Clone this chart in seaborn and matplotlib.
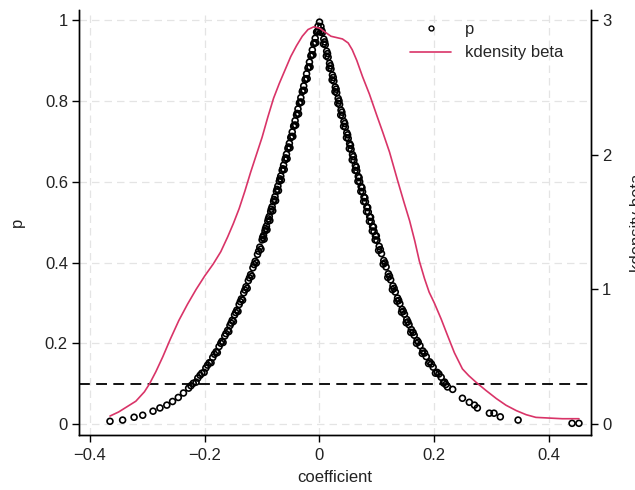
import matplotlib
matplotlib.use("Agg")
import matplotlib.pyplot as plt
from matplotlib.lines import Line2D
import seaborn as sns
import pandas as pd

# ---- scatter data: coefficient (beta) and p-value ----
left_coef = [-0.0025, -0.005, -0.0075, -0.010, -0.0125, -0.015, -0.0175, -0.020,
             -0.0225, -0.025, -0.0275, -0.030, -0.0325, -0.035, -0.0375, -0.040,
             -0.0425, -0.045, -0.0475, -0.050, -0.0525, -0.055, -0.0575, -0.060,
             -0.0625, -0.065, -0.0675, -0.070, -0.0725, -0.075, -0.0775, -0.080,
             -0.0825, -0.085, -0.0875, -0.090, -0.0925, -0.095, -0.0975, -0.100,
             -0.104, -0.108, -0.112, -0.116, -0.120, -0.124, -0.128, -0.132,
             -0.136, -0.140, -0.144, -0.148, -0.152, -0.156, -0.160, -0.165,
             -0.170, -0.175, -0.180, -0.186, -0.192, -0.198, -0.205, -0.212,
             -0.220, -0.228, -0.237, -0.246, -0.256, -0.266, -0.278, -0.290,
             -0.308, -0.323, -0.343, -0.365]
left_p = [0.985, 0.970, 0.955, 0.941, 0.926, 0.911, 0.896, 0.881,
          0.867, 0.852, 0.837, 0.823, 0.808, 0.794, 0.780, 0.765,
          0.751, 0.737, 0.723, 0.709, 0.695, 0.682, 0.668, 0.654,
          0.641, 0.628, 0.614, 0.601, 0.589, 0.576, 0.563, 0.551,
          0.538, 0.526, 0.514, 0.502, 0.490, 0.478, 0.467, 0.456,
          0.438, 0.420, 0.403, 0.387, 0.370, 0.355, 0.340, 0.325,
          0.310, 0.296, 0.282, 0.270, 0.257, 0.244, 0.232, 0.218,
          0.205, 0.192, 0.179, 0.165, 0.152, 0.139, 0.126, 0.114,
          0.101, 0.089, 0.077, 0.066, 0.056, 0.047, 0.040, 0.032,
          0.022, 0.017, 0.010, 0.007]

left2_coef = [-0.004, -0.009, -0.014, -0.019, -0.024, -0.029, -0.034, -0.039,
              -0.044, -0.049, -0.054, -0.059, -0.064, -0.069, -0.074, -0.079,
              -0.084, -0.089, -0.094, -0.099, -0.106, -0.114, -0.122, -0.130,
              -0.138, -0.146, -0.154, -0.163, -0.172, -0.183, -0.195, -0.208,
              -0.224]
left2_p = [0.972, 0.944, 0.914, 0.884, 0.855, 0.826, 0.797, 0.769,
           0.740, 0.712, 0.686, 0.659, 0.632, 0.607, 0.581, 0.556,
           0.532, 0.508, 0.484, 0.462, 0.428, 0.395, 0.362, 0.332,
           0.303, 0.276, 0.250, 0.224, 0.200, 0.173, 0.146, 0.121,
           0.095]

left3_coef = [-0.0015, -0.0065, -0.0115, -0.0165, -0.0215, -0.0265, -0.0315, -0.0365,
              -0.0415, -0.0465, -0.0515, -0.0565, -0.0615, -0.0665, -0.0715, -0.0765,
              -0.0815, -0.0865, -0.0915, -0.0965, -0.102, -0.110, -0.118, -0.126,
              -0.134, -0.142, -0.150, -0.158, -0.168, -0.178, -0.189, -0.201,
              -0.215]
left3_p = [0.973, 0.944, 0.914, 0.884, 0.855, 0.826, 0.797, 0.768,
           0.740, 0.712, 0.684, 0.657, 0.630, 0.604, 0.578, 0.553,
           0.528, 0.504, 0.481, 0.458, 0.433, 0.399, 0.366, 0.336,
           0.307, 0.279, 0.254, 0.229, 0.202, 0.177, 0.152, 0.128,
           0.104]

right_coef = [0.0, 0.0025, 0.005, 0.0075, 0.010, 0.0125, 0.015, 0.0175, 0.020,
              0.0225, 0.025, 0.0275, 0.030, 0.0325, 0.035, 0.0375, 0.040,
              0.0425, 0.045, 0.0475, 0.050, 0.0525, 0.055, 0.0575, 0.060,
              0.0625, 0.065, 0.0675, 0.070, 0.0725, 0.075, 0.0775, 0.080,
              0.0825, 0.085, 0.0875, 0.090, 0.0925, 0.095, 0.0975, 0.100,
              0.104, 0.108, 0.112, 0.116, 0.120, 0.124, 0.128, 0.132,
              0.136, 0.140, 0.144, 0.148, 0.152, 0.156, 0.160, 0.165,
              0.170, 0.175, 0.180, 0.186, 0.192, 0.198, 0.205, 0.212,
              0.218, 0.220, 0.223, 0.232, 0.249, 0.261, 0.270, 0.275,
              0.296, 0.304, 0.315, 0.346, 0.440, 0.452]
right_p = [0.995, 0.984, 0.969, 0.953, 0.939, 0.923, 0.908, 0.893, 0.879,
           0.864, 0.849, 0.834, 0.820, 0.806, 0.791, 0.777, 0.763,
           0.749, 0.735, 0.721, 0.707, 0.694, 0.680, 0.667, 0.653,
           0.640, 0.627, 0.613, 0.600, 0.588, 0.575, 0.562, 0.550,
           0.537, 0.525, 0.513, 0.501, 0.489, 0.477, 0.466, 0.455,
           0.440, 0.422, 0.405, 0.389, 0.372, 0.357, 0.342, 0.327,
           0.312, 0.298, 0.284, 0.272, 0.259, 0.246, 0.234, 0.220,
           0.207, 0.194, 0.181, 0.167, 0.154, 0.141, 0.128, 0.116,
           0.104, 0.098, 0.092, 0.086, 0.064, 0.054, 0.047, 0.040,
           0.027, 0.027, 0.018, 0.010, 0.002, 0.002]

right2_coef = [0.004, 0.009, 0.014, 0.019, 0.024, 0.029, 0.034, 0.039,
               0.044, 0.049, 0.054, 0.059, 0.064, 0.069, 0.074, 0.079,
               0.084, 0.089, 0.094, 0.099, 0.106, 0.114, 0.122, 0.130,
               0.138, 0.146, 0.154, 0.163, 0.172, 0.183, 0.195, 0.208]
right2_p = [0.974, 0.946, 0.917, 0.887, 0.858, 0.829, 0.800, 0.772,
            0.744, 0.716, 0.690, 0.662, 0.636, 0.610, 0.585, 0.560,
            0.536, 0.512, 0.488, 0.466, 0.432, 0.399, 0.366, 0.336,
            0.306, 0.279, 0.253, 0.227, 0.203, 0.176, 0.149, 0.124]

right3_coef = [0.0020, 0.0070, 0.0120, 0.0170, 0.0220, 0.0270, 0.0320, 0.0370,
               0.0420, 0.0470, 0.0520, 0.0570, 0.0620, 0.0670, 0.0720, 0.0770,
               0.0820, 0.0870, 0.0920, 0.0970, 0.103, 0.111, 0.119, 0.127,
               0.135, 0.143, 0.151, 0.159, 0.169, 0.179, 0.190, 0.202,
               0.216]
right3_p = [0.970, 0.941, 0.911, 0.881, 0.852, 0.823, 0.794, 0.765,
            0.737, 0.709, 0.682, 0.654, 0.628, 0.601, 0.576, 0.551,
            0.526, 0.502, 0.478, 0.456, 0.430, 0.396, 0.363, 0.333,
            0.304, 0.277, 0.251, 0.227, 0.200, 0.175, 0.150, 0.126,
            0.102]

# ---- kernel density of beta (right axis) ----
kde_x = [-0.365, -0.350, -0.335, -0.320, -0.305, -0.296, -0.285, -0.273,
         -0.260, -0.245, -0.230, -0.215, -0.200, -0.185, -0.172, -0.160,
         -0.150, -0.140, -0.130, -0.120, -0.110, -0.100, -0.090, -0.080,
         -0.070, -0.060, -0.050, -0.040, -0.030, -0.020, -0.010, 0.000,
         0.010, 0.020, 0.030, 0.040, 0.050, 0.057, 0.065, 0.075,
         0.087, 0.100, 0.110, 0.122, 0.136, 0.147, 0.157, 0.166,
         0.174, 0.183, 0.191, 0.200, 0.212, 0.222, 0.235, 0.249,
         0.260, 0.273, 0.290, 0.308, 0.325, 0.343, 0.360, 0.377,
         0.400, 0.423, 0.452]
kde_y = [0.06, 0.09, 0.13, 0.17, 0.24, 0.30, 0.39, 0.50,
         0.63, 0.77, 0.89, 1.00, 1.10, 1.19, 1.28, 1.39,
         1.49, 1.60, 1.73, 1.87, 2.00, 2.13, 2.28, 2.42,
         2.53, 2.63, 2.73, 2.81, 2.88, 2.93, 2.95, 2.94,
         2.91, 2.88, 2.87, 2.86, 2.83, 2.78, 2.70, 2.58,
         2.45, 2.29, 2.17, 2.02, 1.81, 1.65, 1.51, 1.36,
         1.21, 1.08, 0.98, 0.90, 0.78, 0.67, 0.53, 0.41,
         0.36, 0.31, 0.25, 0.19, 0.14, 0.10, 0.07, 0.05,
         0.045, 0.04, 0.04]

x_ticks = [-0.4, -0.2, 0, 0.2, 0.4]
x_ticklabels = ["\u22120.4", "\u22120.2", "0", "0.2", "0.4"]
y_ticks = [0, 0.2, 0.4, 0.6, 0.8, 1]
y_ticklabels = ["0", "0.2", "0.4", "0.6", "0.8", "1"]
y2_ticks = [0, 1, 2, 3]
threshold = 0.1

scatter_df = pd.DataFrame({
    "coefficient": left_coef + left2_coef + left3_coef
                   + right_coef + right2_coef + right3_coef,
    "p": left_p + left2_p + left3_p + right_p + right2_p + right3_p,
})
kde_df = pd.DataFrame({"beta": kde_x, "density": kde_y})

sns.set_style("white")
plt.rcParams["font.family"] = ["Liberation Sans", "DejaVu Sans"]
plt.rcParams["font.size"] = 12

fig = plt.figure(figsize=(6.35, 4.9), dpi=100)
ax = fig.add_axes([0.1244, 0.1122, 0.8063, 0.8674])

kde_color = "#D93468"

ax.set_xlim(-0.419, 0.473)
ax.set_ylim(-0.027, 1.025)

ax.grid(True, color="#E4E4E4", linestyle=(0, (6, 4)), linewidth=0.9)
ax.set_axisbelow(True)

sns.scatterplot(data=scatter_df, x="coefficient", y="p", ax=ax,
                marker="o", s=18, facecolor="none", edgecolor="black",
                linewidth=1.2, legend=False, zorder=3)
ax.axhline(threshold, color="black", linestyle=(0, (6, 3.5)), linewidth=1.3, zorder=2)

ax2 = ax.twinx()
ax2.set_ylim(-0.027 * 3, 1.025 * 3)
sns.lineplot(data=kde_df, x="beta", y="density", ax=ax2, color=kde_color,
             linewidth=1.2, sort=False, legend=False, zorder=4)

ax.set_xticks(x_ticks)
ax.set_xticklabels(x_ticklabels)
ax.set_yticks(y_ticks)
ax.set_yticklabels(y_ticklabels)
ax2.set_yticks(y2_ticks)
ax2.set_yticklabels([str(t) for t in y2_ticks])

for a in (ax, ax2):
    a.tick_params(direction="out", length=5, width=1, color="black",
                  labelsize=12, labelcolor="#222222")
    a.spines["top"].set_visible(False)
    for s in ("left", "right", "bottom"):
        a.spines[s].set_color("black")
        a.spines[s].set_linewidth(1.0)
ax.tick_params(axis="x", bottom=True, pad=4)
ax.tick_params(axis="y", left=True, pad=3)
ax2.tick_params(axis="y", right=True, pad=3)
ax2.set_xlabel("")

ax.set_xlabel("coefficient", fontsize=12, color="#222222")
ax.set_ylabel("p", fontsize=12, color="#222222")
ax.yaxis.set_label_coords(-0.105, 0.5)
ax.xaxis.set_label_coords(0.5, -0.083)
ax2.set_ylabel("kdensity beta", fontsize=12, color="#222222", rotation=90)
ax2.yaxis.set_label_coords(1.077, 0.5)

handles = [
    Line2D([], [], marker="o", linestyle="none", markersize=3.5,
           markerfacecolor="none", markeredgecolor="black", markeredgewidth=1.0),
    Line2D([], [], color=kde_color, linewidth=1.2),
]
leg = ax2.legend(handles, ["p", "kdensity beta"], loc="upper right",
                 bbox_to_anchor=(0.965, 0.995), frameon=False, fontsize=12,
                 handlelength=2.5, handletextpad=0.8, labelspacing=0.5,
                 borderaxespad=0.2)

fig.savefig("out.png", dpi=100)
